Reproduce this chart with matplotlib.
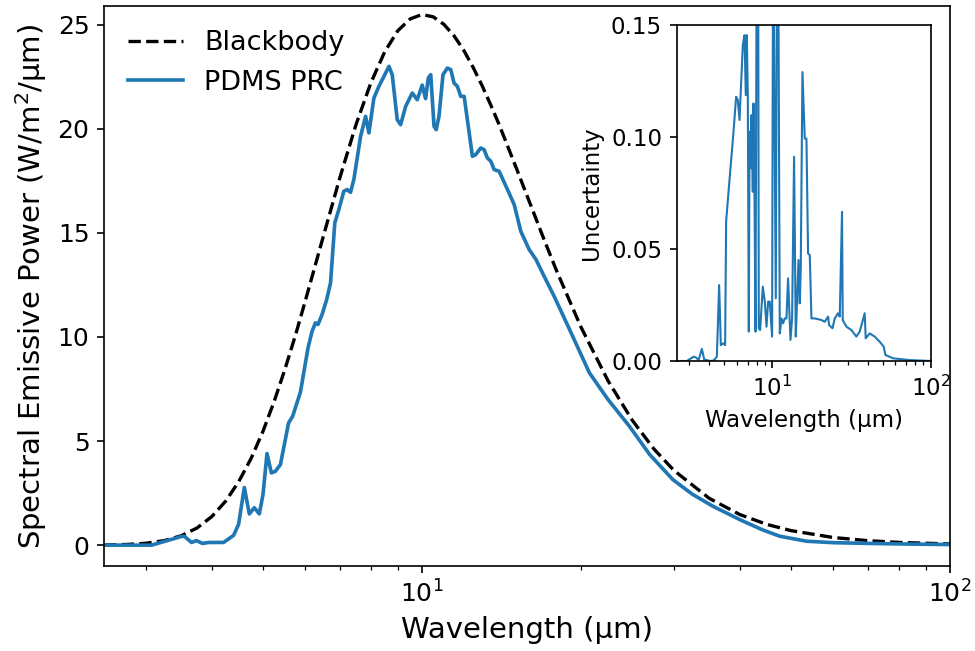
import matplotlib
matplotlib.use("Agg")
import matplotlib.pyplot as plt

# blackbody curve
bb_wl = [2.5, 2.75, 3.0, 3.25, 3.5, 3.75, 4.0, 4.25, 4.5, 4.75, 5.0, 5.25, 5.5,
         5.75, 6.0, 6.5, 7.0, 7.5, 8.0, 8.5, 9.0, 9.5, 10.0, 10.5, 11.0, 11.5,
         12.0, 12.5, 13.0, 13.5, 14.0, 15.0, 16.0, 17.0, 18.0, 20.0, 22.5, 25.0,
         27.5, 30.0, 35.0, 40.0, 45.0, 50.0, 60.0, 70.0, 80.0, 100.0]
bb_power = [0.008, 0.031, 0.091, 0.218, 0.451, 0.826, 1.374, 2.118, 3.06, 4.18,
            5.47, 6.91, 8.44, 10.02, 11.65, 14.81, 17.70, 20.20, 22.20, 23.70,
            24.71, 25.28, 25.49, 25.38, 25.02, 24.47, 23.77, 22.95, 22.07, 21.14,
            20.20, 18.28, 16.45, 14.73, 13.16, 10.48, 7.905, 6.01, 4.618, 3.59,
            2.249, 1.469, 0.997, 0.698, 0.370, 0.214, 0.132, 0.058]

# PDMS PRC emissive power
prc_wl = [2.5, 3.075, 3.264, 3.505, 3.551, 3.661, 3.742, 3.841, 3.943, 4.21,
          4.398, 4.495, 4.609, 4.711, 4.814, 4.92, 5.0, 5.088, 5.186, 5.278,
          5.394, 5.59, 5.69, 5.886, 6.085, 6.192, 6.285, 6.356, 6.469, 6.6,
          6.712, 6.838, 6.959, 7.112, 7.217, 7.324, 7.43, 7.652, 7.821, 7.934,
          8.109, 8.288, 8.472, 8.659, 8.784, 8.977, 9.112, 9.314, 9.585, 9.796,
          10.01, 10.16, 10.28, 10.39, 10.54, 10.64, 10.77, 10.96, 11.17, 11.34,
          11.50, 11.67, 11.84, 12.02, 12.46, 12.64, 12.92, 13.11, 13.30, 13.50,
          13.70, 14.00, 14.52, 14.95, 15.39, 15.96, 16.44, 17.04, 17.80, 19.0,
          20.75, 22.5, 24.71, 27.0, 29.85, 32.5, 35.55, 39.96, 44.0, 47.58,
          53.48, 60.0, 71.52, 85.0, 100.0]
prc_power = [0.0, 0.0, 0.19, 0.42, 0.42, 0.13, 0.22, 0.08, 0.13, 0.13,
             0.47, 1.0, 2.77, 1.5, 1.8, 1.5, 2.43, 4.4, 3.47, 3.55,
             3.87, 5.87, 6.19, 7.35, 9.48, 10.27, 10.68, 10.6, 11.08, 11.8,
             12.6, 15.48, 16.12, 17.0, 17.08, 16.95, 17.56, 19.64, 20.6, 19.8,
             21.48, 22.04, 22.52, 23.0, 22.6, 20.44, 20.2, 21.08, 21.72, 21.4,
             22.1, 21.45, 22.44, 22.6, 20.12, 19.96, 20.6, 22.6, 22.92, 22.84,
             22.2, 22.04, 21.56, 21.56, 18.68, 18.76, 19.08, 19.0, 18.6, 18.44,
             18.04, 17.96, 17.08, 16.36, 15.07, 14.2, 13.72, 12.91, 11.95, 10.4,
             8.28, 7.0, 5.71, 4.35, 3.15, 2.45, 1.87, 1.23, 0.75, 0.43,
             0.19, 0.12, 0.08, 0.05, 0.03]

# uncertainty (inset)
unc_wl = [2.508, 2.90, 3.196, 3.319, 3.437, 3.606, 3.729, 4.067, 4.273, 4.482,
          4.634, 4.75, 4.94, 5.055, 5.129, 5.311, 5.71, 5.93, 6.078, 6.23,
          6.535, 6.697, 6.825, 6.925, 7.027, 7.13, 7.202, 7.307, 7.414, 7.556,
          7.632, 7.743, 7.856, 8.006, 8.159, 8.243, 8.404, 8.738, 8.995, 9.22,
          9.436, 9.67, 10.0, 10.15, 10.55, 10.75, 10.91, 11.18, 11.46, 11.73,
          12.02, 12.32, 12.61, 13.06, 13.37, 13.76, 14.10, 14.37, 14.67, 14.95,
          15.16, 15.54, 16.07, 16.47, 16.86, 17.28, 17.71, 18.58, 20.48, 21.48,
          22.54, 22.87, 24.03, 24.84, 26.05, 26.71, 27.61, 27.89, 29.44, 31.64,
          34.02, 35.69, 38.38, 38.94, 41.26, 44.37, 47.71, 50.56, 51.83, 57.87,
          73.76, 100.0]
unc_value = [0.0, 0.0, 0.0019, 0.0015, 0.0004, 0.0054, 0.0007, 0.0, 0.0002, 0.0019,
             0.0339, 0.0071, 0.0079, 0.0071, 0.0622, 0.0756, 0.1024, 0.118, 0.1165, 0.1076,
             0.141, 0.1455, 0.1187, 0.1455, 0.1187, 0.0131, 0.1024, 0.086, 0.1098, 0.0756,
             0.115, 0.0756, 0.0131, 0.2, 0.2, 0.0146, 0.0138, 0.0332, 0.0265, 0.0153,
             0.0265, 0.0265, 0.0109, 0.2, 0.028, 0.2, 0.2, 0.0123, 0.019, 0.0168,
             0.019, 0.019, 0.0369, 0.0094, 0.019, 0.0912, 0.0109, 0.0265, 0.0451, 0.0257,
             0.0413, 0.129, 0.0993, 0.0993, 0.048, 0.0473, 0.019, 0.019, 0.0183, 0.0175,
             0.0198, 0.0161, 0.0146, 0.019, 0.0213, 0.0198, 0.0666, 0.0183, 0.0153, 0.0138,
             0.0109, 0.0131, 0.0213, 0.0101, 0.0123, 0.0109, 0.0086, 0.0064, 0.0027, 0.0012,
             0.0004, 0.0]

fig = plt.figure(figsize=(6.5, 4.34), dpi=150)

ax = fig.add_axes([0.1067, 0.1306, 0.8677, 0.8602])
ax.plot(bb_wl, bb_power, 'k--', lw=1.6, label='Blackbody')
ax.plot(prc_wl, prc_power, color='tab:blue', lw=1.75, label='PDMS PRC')
ax.set_xscale('log')
ax.set_xlim(2.5, 100)
ax.set_ylim(-1.0, 25.9)
ax.set_xlabel('Wavelength (µm)', fontsize=14)
ax.set_ylabel('Spectral Emissive Power (W/m$^2$/µm)', fontsize=14)
ax.tick_params(labelsize=12)
ax.legend(loc='upper left', frameon=False, fontsize=13)

ins = fig.add_axes([0.694, 0.4455, 0.2605, 0.516])
ins.plot(unc_wl, unc_value, color='tab:blue', lw=1.0)
ins.set_xscale('log')
ins.set_xlim(2.5, 100)
ins.set_ylim(0, 0.15)
ins.set_yticks([0, 0.05, 0.10, 0.15])
ins.set_xlabel('Wavelength (µm)', fontsize=11)
ins.set_ylabel('Uncertainty', fontsize=11)
ins.tick_params(labelsize=11)

fig.savefig('out.png', dpi=150)
